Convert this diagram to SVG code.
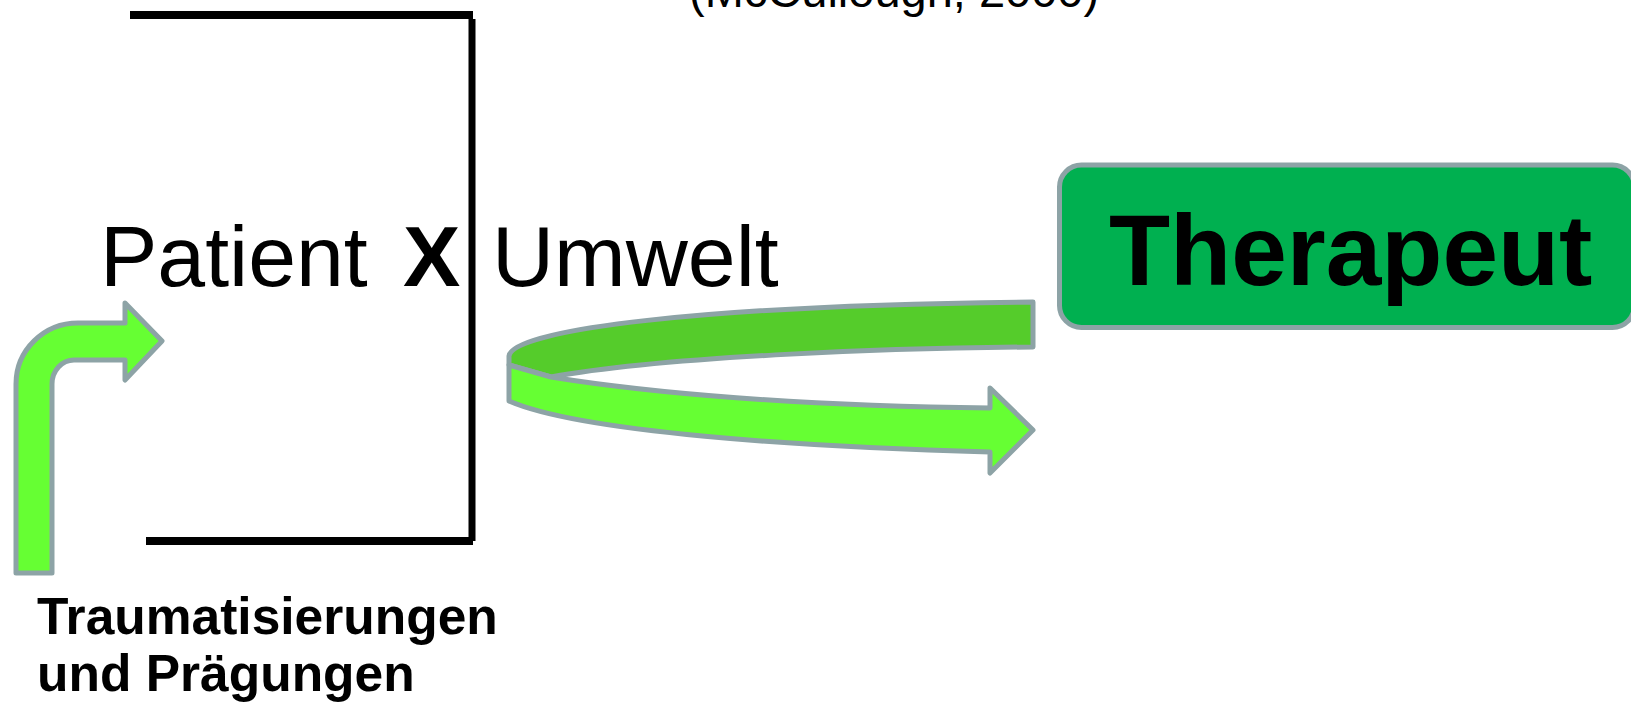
<svg xmlns="http://www.w3.org/2000/svg" width="1631" height="708" viewBox="0 0 1631 708">
  <style>
    .txt { font-family: "Liberation Sans", Arial, sans-serif; fill: #000; }
    .bold { font-weight: bold; }
    .frame { stroke: #000; fill: none; }
    .arrow { fill: #66FF33; stroke: #8DA3A6; stroke-width: 5; stroke-linejoin: round; }
    .arrow-back { fill: #55CC2B; }
    .box { fill: #00B050; stroke: #8DA3A6; stroke-width: 5; }
  </style>

  <rect width="1631" height="708" fill="#FFFFFF"/>

  <!-- citation, clipped at the top edge -->
  <g id="citation">
    <text class="txt" x="689" y="6.5" font-size="47">(McCullough, 2000)</text>
  </g>

  <!-- bracket frame around the patient -->
  <g id="frame" class="frame">
    <path d="M130,15 H473" stroke-width="8"/>
    <path d="M472,19 V541" stroke-width="7"/>
    <path d="M146,541 H473" stroke-width="8"/>
  </g>

  <g id="patient">
    <text class="txt" x="100" y="286" font-size="86">Patient</text>
    <text class="txt bold" x="403" y="286" font-size="86">X</text>
  </g>

  <g id="umwelt">
    <text class="txt" x="492" y="286" font-size="86">Umwelt</text>
  </g>

  <g id="therapeut">
    <rect class="box" x="1059.5" y="165" width="575" height="162.5" rx="22" ry="22"/>
    <text class="txt bold" x="1109" y="285" font-size="100">Therapeut</text>
  </g>

  <g id="praegungen">
    <text class="txt bold" x="37" y="634" font-size="51.5">Traumatisierungen</text>
    <text class="txt bold" x="37" y="691" font-size="51.5">und Prägungen</text>
  </g>

  <g id="connectors">
    <!-- bent arrow rising into the patient frame -->
    <path class="arrow" d="M16,573 V384 A62,61 0 0 1 78,323 H125 V303 L162,341 L125,380 V360 H74 A22,24 0 0 0 52,384 V573 Z"/>
    <!-- U-turn arrow: back strip from the therapist, front strip returning -->
    <path class="arrow arrow-back" d="M1033,302 V347 C880,348 660,357 551,377 L509,365 V356 C512,330 700,305 1033,302 Z"/>
    <path class="arrow" d="M509,365 L551,377 C650,393 800,406 990,408 V388 L1033,430 L990,473 V452 C800,447 580,432 509,401 Z"/>
  </g>
</svg>
